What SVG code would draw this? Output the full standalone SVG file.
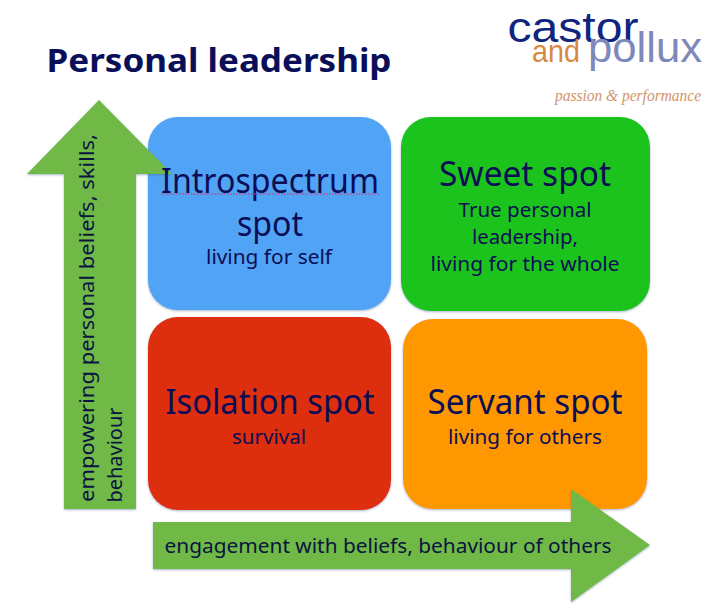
<svg xmlns="http://www.w3.org/2000/svg" width="720" height="607" viewBox="0 0 720 607">
<defs>
<filter id="sh" x="-5%" y="-5%" width="110%" height="110%"><feDropShadow dx="0" dy="1" stdDeviation="1" flood-color="#3a5a80" flood-opacity="0.45"/></filter>
</defs>
<style>
text{font-family:"Noto Sans","DejaVu Sans",sans-serif;fill:#0b0d55;text-anchor:middle}
.big{font-size:34px}
.sub{font-size:20px}
.ax{font-size:20px;fill:#0a1440}
.logo{font-family:"Liberation Sans",sans-serif}
.arrow{fill:#6fb946;filter:url(#sh)}
.box{filter:url(#sh)}
</style>
<rect width="720" height="607" fill="#ffffff"/>
<g id="title"><text x="219" y="72" style="font-size:33px;font-weight:700;fill:#0a0f5a" textLength="345" lengthAdjust="spacingAndGlyphs">Personal leadership</text></g>
<g id="logo">
<text class="logo" x="573" y="42" style="font-size:42px;fill:#0f2580" textLength="131" lengthAdjust="spacingAndGlyphs">castor</text>
<text class="logo" x="556" y="62" style="font-size:32px;fill:#d98a3e" textLength="48" lengthAdjust="spacingAndGlyphs">and</text>
<text class="logo" x="645" y="62" style="font-size:42px;fill:#7d88bb" textLength="114" lengthAdjust="spacingAndGlyphs">pollux</text>
<text class="logo" x="628" y="101" style="font-family:'Liberation Serif',serif;font-style:italic;font-size:16px;fill:#d0956a" textLength="146" lengthAdjust="spacingAndGlyphs">passion &amp; performance</text>
</g>
<g id="node-blue"><rect class="box" x="148" y="117" width="243" height="193" rx="30" fill="#51a3f5"/></g>
<g id="node-green"><rect class="box" x="401" y="117" width="249" height="194" rx="30" fill="#1fc31a"/></g>
<g id="node-red"><rect class="box" x="148" y="317" width="243" height="193" rx="30" fill="#dd2e10"/></g>
<g id="node-orange"><rect class="box" x="403" y="319" width="244" height="190" rx="30" fill="#ff9700"/></g>
<g id="connectors">
<g id="arrow-up"><polygon class="arrow" points="99,100 172,174 136,174 136,509 64,509 64,174 27,174"/>
<text class="ax" transform="translate(94,318) rotate(-90)" textLength="368" lengthAdjust="spacingAndGlyphs" x="0" y="0">empowering personal beliefs, skills,</text>
<text class="ax" transform="translate(122,455) rotate(-90)" textLength="95" lengthAdjust="spacingAndGlyphs" x="0" y="0">behaviour</text></g>
<g id="arrow-right"><polygon class="arrow" points="153,522 571,522 571,489 650,545 571,602 571,569 153,569"/>
<text class="ax" x="388" y="553" textLength="447" lengthAdjust="spacingAndGlyphs">engagement with beliefs, behaviour of others</text></g>
</g>
<g id="label-blue">
<text class="big" x="270" y="193" textLength="218" lengthAdjust="spacingAndGlyphs">Introspectrum</text>
<line x1="161" y1="194" x2="379" y2="194" stroke="#b0508a" stroke-width="1.500" stroke-dasharray="1.500 1.500"/>
<text class="big" x="270" y="236" textLength="66" lengthAdjust="spacingAndGlyphs">spot</text>
<text class="sub" x="269" y="264" textLength="126" lengthAdjust="spacingAndGlyphs">living for self</text></g>
<g id="label-green">
<text class="big" x="525" y="186" textLength="172" lengthAdjust="spacingAndGlyphs">Sweet spot</text>
<text class="sub" x="525" y="217" textLength="133" lengthAdjust="spacingAndGlyphs">True personal</text>
<text class="sub" x="525" y="244" textLength="106" lengthAdjust="spacingAndGlyphs">leadership,</text>
<text class="sub" x="525" y="271" textLength="189" lengthAdjust="spacingAndGlyphs">living for the whole</text></g>
<g id="label-red">
<text class="big" x="270" y="414" textLength="209" lengthAdjust="spacingAndGlyphs">Isolation spot</text>
<text class="sub" x="269" y="444" textLength="74" lengthAdjust="spacingAndGlyphs">survival</text></g>
<g id="label-orange">
<text class="big" x="525" y="414" textLength="195" lengthAdjust="spacingAndGlyphs">Servant spot</text>
<text class="sub" x="525" y="444" textLength="154" lengthAdjust="spacingAndGlyphs">living for others</text></g>
</svg>
